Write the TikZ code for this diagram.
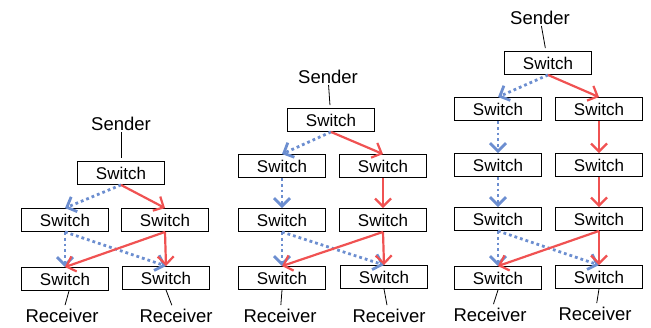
\documentclass[tikz,border=0pt]{standalone}
\usepackage{fontspec}
\setmainfont{Liberation Sans}
\usetikzlibrary{arrows.meta}

\begin{document}
\begin{tikzpicture}[x=1pt,y=-1pt,>={Straight Barb[length=8pt,width=16pt]}]
\tikzstyle{sw}=[draw,line width=0.9pt,minimum width=87pt,minimum height=23pt,inner sep=0pt,font=\fontsize{17}{19}\selectfont]
\tikzstyle{lbl}=[font=\fontsize{18.5}{20}\selectfont,inner sep=1pt]
\tikzstyle{rd}=[->,draw={rgb,255:red,240;green,82;blue,82},line width=2.2pt]
\tikzstyle{bl}=[->,draw={rgb,255:red,108;green,142;blue,208},line width=2.8pt,dash pattern=on 2.8pt off 3pt]
\tikzstyle{ln}=[line width=0.8pt,shorten >=3pt]
\useasboundingbox (0,0) rectangle (651,327);

% first tree
\node[lbl] (s1) at (121,124) {Sender};
\node[sw] (a0) at (121,173) {Switch};
\node[sw] (a1) at (65,220) {Switch};
\node[sw] (a2) at (165,220) {Switch};
\node[sw] (a3) at (65,279) {Switch};
\node[sw] (a4) at (166,278) {Switch};
\node[lbl] (r1) at (62,316) {Receiver};
\node[lbl] (r2) at (176,316) {Receiver};
\draw[ln] (s1) -- (a0);
\draw[ln] ([xshift=4pt]a3.south) -- (r1);
\draw[ln] (a4.south) -- (r2);
\draw[bl] (a0.south) -- (a1.north);
\draw[rd] (a0.south) -- (a2.north);
\draw[bl] (a1.south) -- (a3.north);
\draw[bl] (a1.south) -- (a4.north);
\draw[rd] (a2.south) -- (a3.north);
\draw[rd] (a2.south) -- (a4.north);

% second tree
\node[lbl] (s2) at (328,77) {Sender};
\node[sw] (b0) at (331,120) {Switch};
\node[sw] (b1) at (282,166) {Switch};
\node[sw] (b2) at (383,166) {Switch};
\node[sw] (b3) at (282,220) {Switch};
\node[sw] (b4) at (383,220) {Switch};
\node[sw] (b5) at (282,278) {Switch};
\node[sw] (b6) at (384,277) {Switch};
\node[lbl] (r3) at (280,316) {Receiver};
\node[lbl] (r4) at (389,316) {Receiver};
\draw[ln] (s2) -- (b0);
\draw[ln] (b5.south) -- (r3);
\draw[ln] (b6.south) -- (r4);
\draw[bl] (b0.south) -- (b1.north);
\draw[rd] (b0.south) -- (b2.north);
\draw[bl] (b1.south) -- (b3.north);
\draw[rd] (b2.south) -- (b4.north);
\draw[bl] (b3.south) -- (b5.north);
\draw[bl] (b3.south) -- (b6.north);
\draw[rd] (b4.south) -- (b5.north);
\draw[rd] (b4.south) -- (b6.north);

% third tree
\node[lbl] (s3) at (540,18) {Sender};
\node[sw] (c0) at (548,63) {Switch};
\node[sw] (c1) at (498,109) {Switch};
\node[sw] (c2) at (599,109) {Switch};
\node[sw] (c3) at (498,165) {Switch};
\node[sw] (c4) at (599,165) {Switch};
\node[sw] (c5) at (498,219) {Switch};
\node[sw] (c6) at (599,219) {Switch};
\node[sw] (c7) at (498,278) {Switch};
\node[sw] (c8) at (599,277) {Switch};
\node[lbl] (r5) at (490,315) {Receiver};
\node[lbl] (r6) at (595,314) {Receiver};
\draw[ln] (s3) -- (c0);
\draw[ln] (c7.south) -- (r5);
\draw[ln] (c8.south) -- (r6);
\draw[bl] (c0.south) -- (c1.north);
\draw[rd] (c0.south) -- (c2.north);
\draw[bl] (c1.south) -- (c3.north);
\draw[rd] (c2.south) -- (c4.north);
\draw[bl] (c3.south) -- (c5.north);
\draw[rd] (c4.south) -- (c6.north);
\draw[bl] (c5.south) -- (c7.north);
\draw[bl] (c5.south) -- (c8.north);
\draw[rd] (c6.south) -- (c7.north);
\draw[rd] (c6.south) -- (c8.north);
\end{tikzpicture}
\end{document}
